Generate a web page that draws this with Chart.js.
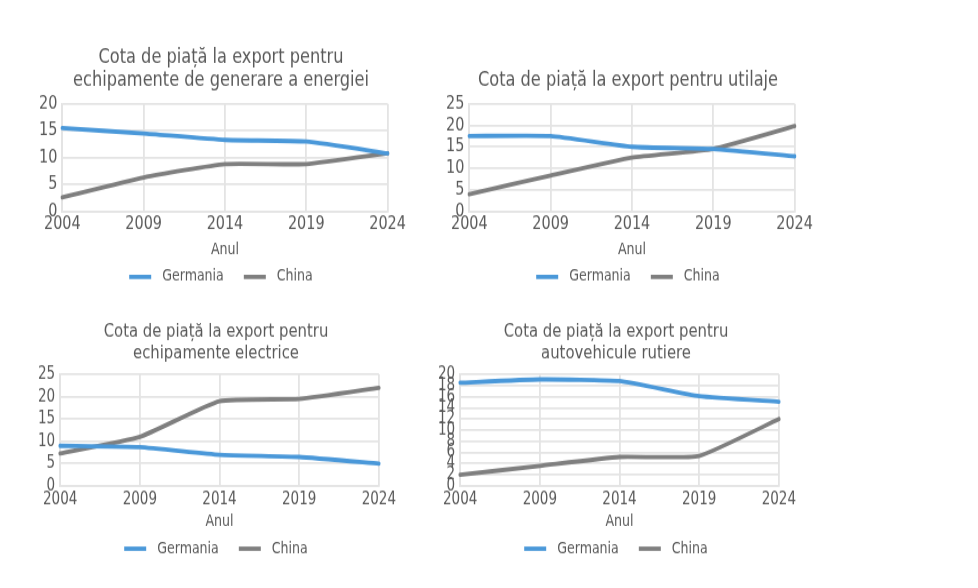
<!DOCTYPE html>
<html>
<head>
<meta charset="utf-8">
<script src="https://cdn.jsdelivr.net/npm/chart.js@4"></script>
<style>
body { margin: 0; background: #fff; width: 978px; height: 588px; position: relative; overflow: hidden; }
.box { position: absolute; transform: scaleY(1.14); transform-origin: 0 0; }
</style>
</head>
<body>
<div class="box" style="left:28px;top:40px;width:380px;height:223.75px"><canvas id="c1"></canvas></div>
<div class="box" style="left:435px;top:40px;width:380px;height:223.75px"><canvas id="c2"></canvas></div>
<div class="box" style="left:27px;top:315px;width:372px;height:222px"><canvas id="c3"></canvas></div>
<div class="box" style="left:427px;top:315px;width:372px;height:222px"><canvas id="c4"></canvas></div>
<script>
var years = ["2004", "2009", "2014", "2019", "2024"];

var energieGermania = [15.5, 14.5, 13.3, 13.0, 10.8];
var energieChina = [2.6, 6.3, 8.8, 8.8, 10.8];

var utilajeGermania = [17.5, 17.5, 15.0, 14.5, 12.8];
var utilajeChina = [4.0, 8.3, 12.5, 14.5, 19.8];

var electriceGermania = [9.0, 8.7, 7.0, 6.5, 5.0];
var electriceChina = [7.3, 11.0, 19.0, 19.5, 22.0];

var autoGermania = [18.5, 19.1, 18.8, 16.1, 15.1];
var autoChina = [2.0, 3.6, 5.2, 5.4, 12.0];

var titles = [
	["Cota de piață la export pentru", "echipamente de generare a energiei"],
	"Cota de piață la export pentru utilaje",
	["Cota de piață la export pentru", "echipamente electrice"],
	["Cota de piață la export pentru", "autovehicule rutiere"]
];

var blue = "#4a98d9";
var grey = "#7f7f7f";
var textColor = "#595959";
var gridColor = "#e4e4e4";
Chart.defaults.font.family = "'DejaVu Sans Condensed', 'DejaVu Sans', sans-serif";
Chart.defaults.color = textColor;

// legend with a little more room around the names
function legendLabels(chart) {
	var items = Chart.defaults.plugins.legend.labels.generateLabels(chart);
	items.forEach(function(it, i) {
		it.text = " " + it.text + (i < items.length - 1 ? "   " : "");
	});
	return items;
}

function makeChart(id, title, germ, china, yMax, yStep, big) {
	var tick = big ? 16 : 15;
	var titleTop = 5;
	// single line title sits one line lower
	if (typeof title == "string") titleTop = 25;
	new Chart(document.getElementById(id), {
		type: "line",
		data: {
			labels: years,
			datasets: [{
				label: "Germania",
				data: germ,
				borderColor: blue,
				backgroundColor: blue,
				borderWidth: 3.8,
				borderCapStyle: "round",
				pointRadius: 0,
				tension: 0.15,
				fill: false
			}, {
				label: "China",
				data: china,
				borderColor: grey,
				backgroundColor: grey,
				borderWidth: 3.8,
				borderCapStyle: "round",
				pointRadius: 0,
				tension: 0.15,
				fill: false
			}]
		},
		options: {
			responsive: true,
			maintainAspectRatio: false,
			animation: false,
			layout: {padding: {left: 6}},
			plugins: {
				title: {
					display: true,
					text: title,
					color: textColor,
					font: {size: big ? 18 : 16.5, weight: "normal", lineHeight: big ? 1.12 : 1.17},
					padding: {top: titleTop, bottom: big ? 10.5 : 8.5}
				},
				legend: {
					position: "bottom",
					labels: {
						usePointStyle: true,
						pointStyle: "line",
						pointStyleWidth: 22,
						color: textColor,
						font: {size: 14},
						padding: 8,
						generateLabels: legendLabels
					}
				},
				tooltip: {enabled: false}
			},
			scales: {
				x: {
					type: "category",
					offset: false,
					title: {display: true, text: "Anul", color: textColor, font: {size: 14}, padding: {top: big ? 2 : -0.75, bottom: 0}},
					grid: {color: gridColor, lineWidth: 1.8, drawTicks: false},
					border: {color: gridColor, width: 1.8},
					ticks: {color: textColor, font: {size: tick}, padding: big ? 2.1 : 3, maxRotation: 0, autoSkip: false}
				},
				y: {
					min: 0,
					max: yMax,
					grid: {color: gridColor, lineWidth: 1.8, drawTicks: false},
					border: {color: gridColor, width: 1.8},
					ticks: {color: textColor, font: {size: tick}, stepSize: yStep, padding: 5, autoSkip: false}
				}
			}
		}
	});
}

makeChart("c1", titles[0], energieGermania, energieChina, 20, 5, true);
makeChart("c2", titles[1], utilajeGermania, utilajeChina, 25, 5, true);
makeChart("c3", titles[2], electriceGermania, electriceChina, 25, 5, false);
makeChart("c4", titles[3], autoGermania, autoChina, 20, 2, false);
</script>
</body>
</html>
